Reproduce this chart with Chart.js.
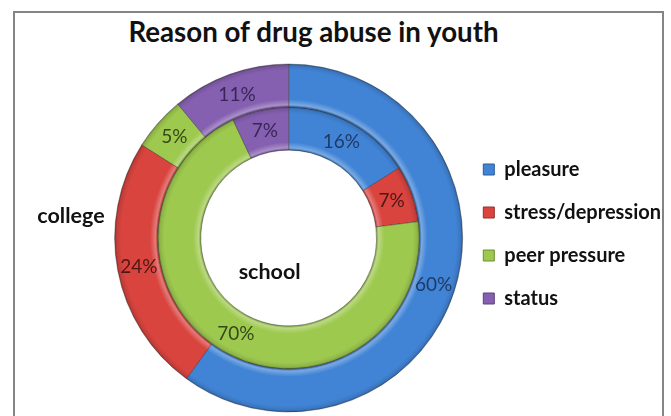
<!DOCTYPE html>
<html>
<head>
<meta charset="utf-8">
<script src="https://cdn.jsdelivr.net/npm/chart.js@4"></script>
<style>
  html, body { margin: 0; padding: 0; background: #fff; overflow: hidden; }
  #wrap { position: relative; width: 671px; height: 416px; }
  #frame { position: absolute; left: 13px; top: 11px; width: 651px; height: 430px; border: 2px solid #858585; box-sizing: border-box; }
  #title { position: absolute; left: 0; top: 15px; width: 627px; text-align: center; font: bold 27.7px Lato, sans-serif; line-height: 1.2; color: #111; }
  canvas { position: absolute; left: 0; top: 0; }
</style>
</head>
<body>
<div id="wrap">
  <div id="frame"></div>
  <div id="title">Reason of drug abuse in youth</div>
  <canvas id="drug-chart" width="671" height="416"></canvas>
</div>
<script>
const reasons = ['pleasure', 'stress/depression', 'peer pressure', 'status'];
const collegeValues = [60, 24, 5, 11];
const schoolValues = [16, 7, 70, 7];
const sliceColors = ['#4184d6', '#d9443f', '#9ec94f', '#8560b0'];
const labelColors = ['#1f3a66', '#4d1715', '#34481a', '#3a2558'];

function mix(hex, target, t) {
    const a = parseInt(hex.slice(1), 16);
    const r = (a >> 16) & 255, g = (a >> 8) & 255, b = a & 255;
    const m = v => Math.round(v + (target - v) * t);
    return `rgb(${m(r)}, ${m(g)}, ${m(b)})`;
}

// rough bevel look: radial gradient across each ring
function ringFill(context) {
    const chart = context.chart;
    const base = sliceColors[context.dataIndex];
    const area = chart.chartArea;
    const ctrl = chart.getDatasetMeta(context.datasetIndex).controller;
    if (!area || !ctrl || !ctrl.outerRadius) return base;
    const cx = (area.left + area.right) / 2;
    const cy = (area.top + area.bottom) / 2;
    const g = chart.ctx.createRadialGradient(cx, cy, ctrl.innerRadius, cx, cy, ctrl.outerRadius);
    g.addColorStop(0, mix(base, 0, 0.25));
    g.addColorStop(0.05, mix(base, 255, 0.3));
    g.addColorStop(0.18, base);
    g.addColorStop(0.85, base);
    g.addColorStop(0.95, mix(base, 0, 0.1));
    g.addColorStop(1, mix(base, 0, 0.3));
    return g;
}

const ringLabels = {
    id: 'ringLabels',
    afterDatasetsDraw(chart) {
        const ctx = chart.ctx;
        ctx.save();
        ctx.textAlign = 'center';
        ctx.textBaseline = 'middle';
        ctx.font = '19px Lato';
        chart.data.datasets.forEach((ds, di) => {
            chart.getDatasetMeta(di).data.forEach((arc, i) => {
                const pos = arc.tooltipPosition();
                ctx.fillStyle = labelColors[i];
                ctx.fillText(ds.data[i] + '%', pos.x, pos.y);
            });
        });
        const outer = chart.getDatasetMeta(0).data[0];
        ctx.font = 'bold 21.5px Lato';
        ctx.fillStyle = '#111';
        ctx.textAlign = 'right';
        ctx.fillText(chart.data.datasets[0].label, outer.x - outer.outerRadius - 10, outer.y - 22);
        ctx.textAlign = 'center';
        ctx.fillText(chart.data.datasets[1].label, outer.x - 19, outer.y + 34);
        ctx.restore();
    }
};

new Chart(document.getElementById('drug-chart').getContext('2d'), {
    type: 'doughnut',
    data: {
        labels: reasons,
        datasets: [
            { label: 'college', data: collegeValues, backgroundColor: ringFill, borderColor: 'rgba(30, 30, 30, 0.35)', borderWidth: 1 },
            { label: 'school', data: schoolValues, backgroundColor: ringFill, borderColor: 'rgba(30, 30, 30, 0.35)', borderWidth: 1 }
        ]
    },
    options: {
        responsive: false,
        animation: false,
        devicePixelRatio: 1,
        radius: 174,
        cutout: '50.5%',
        layout: { padding: { left: 117, right: 0, top: 64, bottom: 4 } },
        plugins: {
            title: { display: false },
            tooltip: { enabled: false },
            legend: {
                position: 'right',
                fullSize: false,
                maxWidth: 216,
                // empty title with negative padding just nudges the items up a little
                title: { display: true, text: '', font: { size: 0 }, padding: { top: -8, bottom: 0 } },
                labels: {
                    color: '#111',
                    font: { family: 'Lato', size: 20, weight: 'bold' },
                    boxWidth: 11,
                    boxHeight: 11,
                    padding: 23,
                    generateLabels: chart => chart.data.labels.map((text, i) => ({
                        text,
                        fillStyle: sliceColors[i],
                        strokeStyle: mix(sliceColors[i], 0, 0.3),
                        lineWidth: 1,
                        fontColor: '#111',
                        index: i
                    }))
                }
            }
        }
    },
    plugins: [ringLabels]
});
</script>
</body>
</html>
